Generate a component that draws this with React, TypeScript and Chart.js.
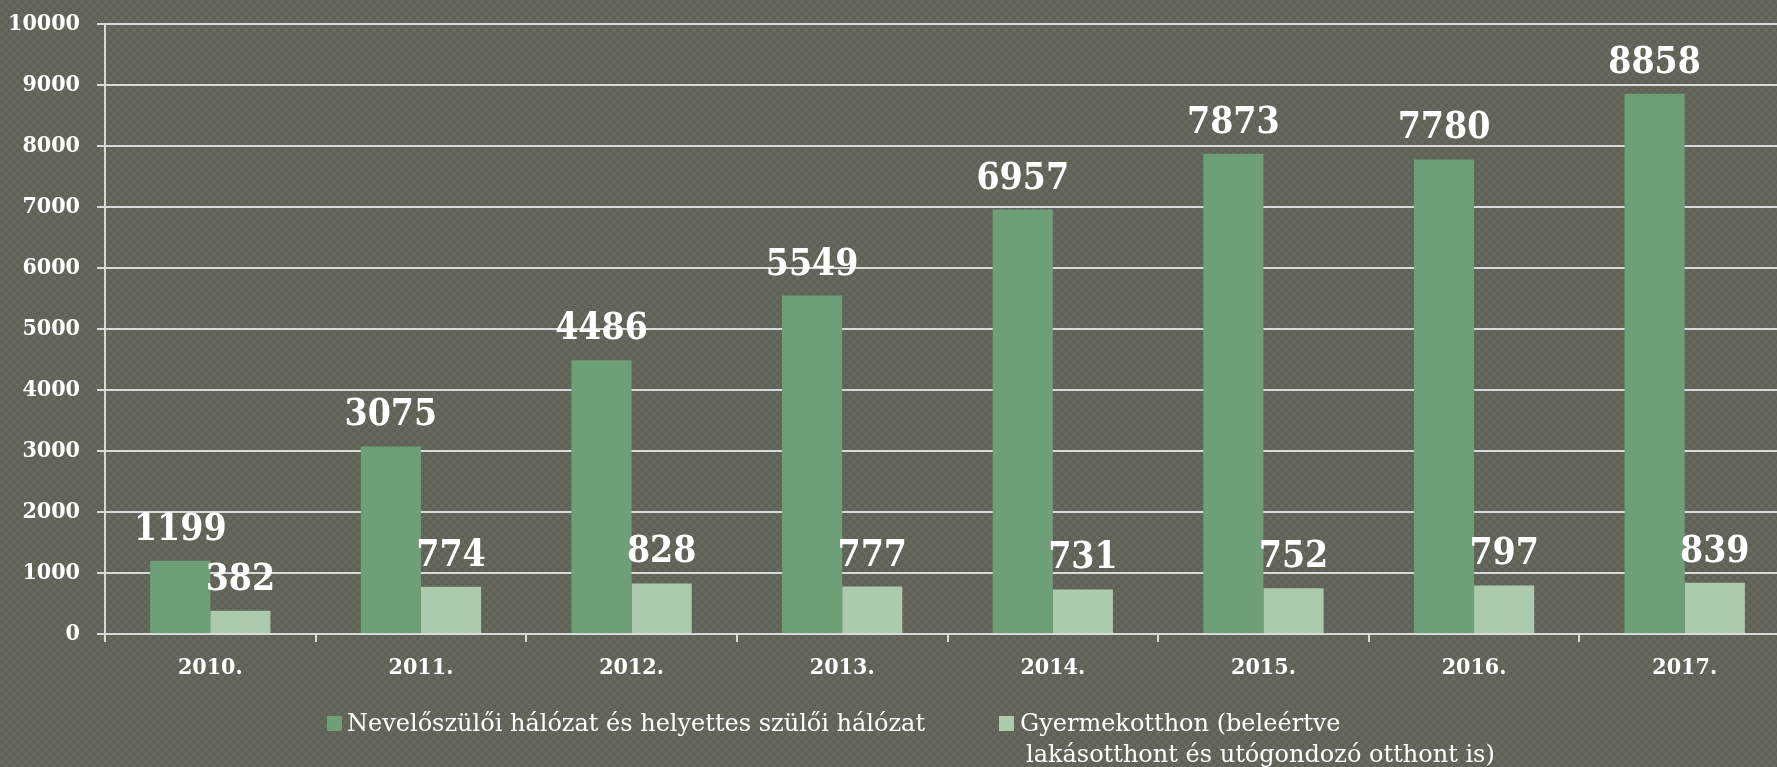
import React, { useEffect, useRef } from "react";
import { Chart, registerables } from "chart.js";

Chart.register(...registerables);

const categories = ["2010.", "2011.", "2012.", "2013.", "2014.", "2015.", "2016.", "2017."];
const neveloValues = [1199, 3075, 4486, 5549, 6957, 7873, 7780, 8858];
const gyermekValues = [382, 774, 828, 777, 731, 752, 797, 839];
const seriesNames = [
  "Nevelőszülői hálózat és helyettes szülői hálózat",
  "Gyermekotthon (beleértve lakásotthont és utógondozó otthont is)",
];
const legendLines = [
  ["Nevelőszülői hálózat és helyettes szülői hálózat"],
  ["Gyermekotthon (beleértve", "lakásotthont és utógondozó otthont is)"],
];

const GREEN = "rgb(109,160,118)";
const LIGHT = "rgb(172,203,172)";
const GRID = "#D9D9D9";
const SLAB = "'DejaVu Serif Condensed', 'DejaVu Serif', serif";
const SLAB_WIDE = "'DejaVu Serif', serif";

const valueLabels = {
  id: "valueLabels",
  afterDatasetsDraw(chart: any) {
    const ctx = chart.ctx;
    ctx.save();
    ctx.fillStyle = "#FFFFFF";
    ctx.font = `bold 37px ${SLAB}`;
    ctx.textAlign = "center";
    ctx.textBaseline = "alphabetic";
    chart.data.datasets.forEach((ds: any, di: number) => {
      const meta = chart.getDatasetMeta(di);
      meta.data.forEach((bar: any, i: number) => {
        ctx.fillText(String(ds.data[i]), bar.x, bar.y - 21);
      });
    });
    ctx.restore();
  },
};

const customLegend = {
  id: "customLegend",
  afterDraw(chart: any) {
    const ctx = chart.ctx;
    ctx.save();
    ctx.font = `24px ${SLAB_WIDE}`;
    ctx.textBaseline = "alphabetic";
    ctx.textAlign = "left";
    const items = [
      { box: 327, text: 347, indent: 347 },
      { box: 999, text: 1020, indent: 1026 },
    ];
    chart.data.datasets.forEach((ds: any, di: number) => {
      const it = items[di];
      ctx.fillStyle = ds.backgroundColor;
      ctx.fillRect(it.box, 716, 15, 15);
      ctx.fillStyle = "#FFFFFF";
      legendLines[di].forEach((line: string, li: number) => {
        ctx.fillText(line, li === 0 ? it.text : it.indent, 731 + li * 31);
      });
    });
    ctx.restore();
  },
};

export default function App() {
  const ref = useRef<HTMLCanvasElement | null>(null);
  useEffect(() => {
    if (!ref.current) return;
    const chart = new Chart(ref.current, {
      type: "bar",
      data: {
        labels: categories,
        datasets: [
          {
            label: seriesNames[0],
            data: neveloValues,
            backgroundColor: GREEN,
            categoryPercentage: 0.571,
            barPercentage: 1,
          },
          {
            label: seriesNames[1],
            data: gyermekValues,
            backgroundColor: LIGHT,
            categoryPercentage: 0.571,
            barPercentage: 1,
          },
        ],
      },
      options: {
        animation: false,
        responsive: false,
        devicePixelRatio: 1,
        layout: { padding: { top: 24, left: 0, right: 0, bottom: 0 } },
        plugins: {
          legend: { display: false },
          tooltip: { enabled: false },
        },
        scales: {
          x: {
            grid: {
              display: true,
              drawOnChartArea: false,
              drawTicks: true,
              tickLength: 8,
              color: GRID,
              lineWidth: 2,
              offset: true,
            },
            border: { display: true, color: GRID, width: 2 },
            ticks: {
              color: "#FFFFFF",
              font: { family: SLAB, size: 23, weight: "bold" },
              padding: 12,
              maxRotation: 0,
            },
            afterFit: (scale: any) => {
              scale.height = 133;
              scale.paddingLeft = 0;
              scale.paddingRight = 0;
            },
          },
          y: {
            min: 0,
            max: 10000,
            grid: {
              color: GRID,
              lineWidth: 2,
              tickLength: 8,
              drawTicks: true,
            },
            border: { display: true, color: GRID, width: 2 },
            ticks: {
              stepSize: 1000,
              color: "#FFFFFF",
              font: { family: SLAB, size: 23, weight: "bold" },
              padding: 17,
              callback: (v: any) => String(v),
            },
            afterFit: (scale: any) => {
              scale.width = 105;
              scale.paddingTop = 0;
              scale.paddingBottom = 0;
            },
          },
        },
      },
      plugins: [valueLabels, customLegend],
    });
    return () => chart.destroy();
  }, []);

  return (
    <div
      style={{
        position: "fixed",
        left: 0,
        top: 0,
        width: 1777,
        height: 767,
        overflow: "hidden",
        backgroundColor: "#62645A",
        backgroundImage:
          "repeating-conic-gradient(#5F6156 0% 25%, #67695E 0% 50%)",
        backgroundSize: "8px 8px",
      }}
    >
      <canvas ref={ref} width={1790} height={767} style={{ display: "block" }} />
    </div>
  );
}
